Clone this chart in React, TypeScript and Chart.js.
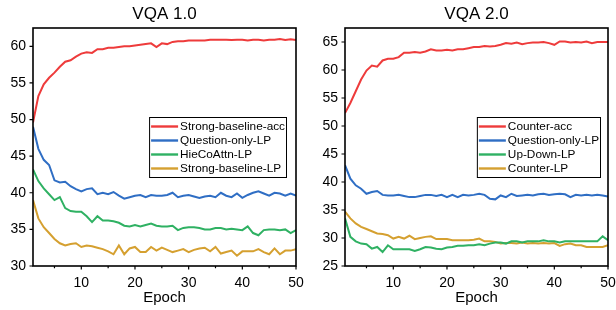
import React, { useEffect, useRef } from "react";
import { Chart, registerables } from "chart.js";

Chart.register(...registerables);

const FONT = "'Liberation Sans', Arial, Helvetica, sans-serif";

const epochs = Array.from({ length: 50 }, (_, i) => i + 1);
const xTicks = [5, 10, 15, 20, 25, 30, 35, 40, 45, 50];

// VQA 1.0
const title1 = "VQA 1.0";
const labels1 = ["Strong-baseline-acc", "Question-only-LP", "HieCoAttn-LP", "Strong-baseline-LP"];
const strongBaselineAcc = [
  49.6, 53.2, 54.8, 55.7, 56.4, 57.2, 57.9, 58.1, 58.6, 59.0,
  59.2, 59.1, 59.6, 59.6, 59.8, 59.8, 59.9, 60.0, 60.0, 60.1,
  60.2, 60.3, 60.4, 59.9, 60.4, 60.3, 60.6, 60.7, 60.7, 60.8,
  60.8, 60.8, 60.8, 60.9, 60.9, 60.9, 60.9, 60.85, 60.9, 60.9,
  60.8, 60.9, 60.9, 60.8, 60.9, 60.9, 61.0, 60.85, 60.95, 60.85,
];
const questionOnlyLP1 = [
  49.0, 46.0, 44.5, 43.8, 41.7, 41.4, 41.5, 40.9, 40.5, 40.2,
  40.5, 40.6, 39.8, 40.0, 39.8, 40.1, 39.6, 39.2, 39.4, 39.6,
  39.7, 39.4, 39.7, 39.6, 39.6, 39.7, 40.0, 39.4, 39.6, 39.7,
  39.5, 39.3, 39.5, 39.6, 39.4, 40.0, 39.6, 39.4, 39.9, 39.3,
  39.7, 40.0, 40.2, 39.9, 39.6, 40.0, 39.9, 39.6, 39.9, 39.6,
];
const hieCoAttnLP = [
  43.2, 41.6, 40.6, 39.8, 39.0, 39.4, 37.9, 37.5, 37.4, 37.4,
  36.8, 36.0, 36.8, 36.2, 36.2, 36.1, 35.9, 35.5, 35.4, 35.6,
  35.4, 35.6, 35.8, 35.5, 35.4, 35.4, 35.5, 34.9, 35.2, 35.3,
  35.3, 35.2, 35.0, 35.0, 35.2, 35.2, 35.0, 35.1, 35.0, 34.9,
  35.4, 34.5, 34.2, 34.9, 35.0, 35.0, 34.9, 35.0, 34.5, 34.9,
];
const strongBaselineLP = [
  39.0, 36.5, 35.3, 34.5, 33.7, 33.1, 32.8, 33.0, 33.1, 32.6,
  32.8, 32.7, 32.5, 32.3, 32.0, 31.6, 32.8, 31.6, 32.4, 32.6,
  31.9, 31.9, 32.6, 32.1, 32.5, 32.2, 31.9, 32.1, 32.3, 31.9,
  32.2, 32.4, 32.5, 32.0, 32.6, 31.7, 31.9, 32.1, 31.4, 32.0,
  32.0, 32.0, 32.3, 31.9, 31.6, 32.4, 31.6, 32.1, 32.1, 32.3,
];
const yTicks1 = [30, 35, 40, 45, 50, 55, 60];

// VQA 2.0
const title2 = "VQA 2.0";
const labels2 = ["Counter-acc", "Question-only-LP", "Up-Down-LP", "Counter-LP"];
const counterAcc = [
  52.3, 54.1, 56.2, 58.3, 59.9, 60.8, 60.6, 61.7, 62.0, 62.0,
  62.3, 63.1, 63.1, 63.2, 63.1, 63.3, 63.7, 63.5, 63.5, 63.6,
  63.5, 63.7, 63.7, 63.9, 64.1, 64.1, 64.3, 64.2, 64.3, 64.5,
  64.8, 64.7, 64.9, 64.6, 64.8, 64.9, 64.9, 65.0, 64.8, 64.5,
  65.1, 65.1, 64.9, 65.0, 64.9, 65.1, 64.8, 65.0, 65.0, 65.0,
];
const questionOnlyLP2 = [
  43.0, 40.6, 39.4, 38.8, 37.9, 38.2, 38.4, 37.7, 37.6, 37.6,
  37.7, 37.5, 37.3, 37.3, 37.5, 37.7, 37.7, 37.5, 37.7, 37.3,
  37.7, 37.3, 37.7, 37.6, 37.7, 37.9, 37.7, 37.0, 36.9, 37.6,
  37.3, 37.9, 37.5, 37.6, 37.7, 37.6, 37.8, 37.9, 37.7, 37.8,
  37.9, 37.8, 37.3, 37.7, 37.6, 37.7, 37.6, 37.7, 37.6, 37.4,
];
const upDownLP = [
  33.5, 30.2, 29.4, 29.0, 28.9, 28.1, 28.4, 27.5, 28.7, 28.0,
  28.0, 28.0, 28.0, 27.7, 28.0, 28.4, 28.3, 28.1, 28.0, 28.3,
  28.4, 28.6, 28.6, 28.7, 28.7, 28.9, 28.7, 29.0, 29.2, 29.2,
  29.0, 29.4, 29.4, 29.2, 29.4, 29.4, 29.4, 29.6, 29.4, 29.4,
  29.2, 29.4, 29.4, 29.4, 29.4, 29.4, 29.4, 29.4, 30.3, 29.6,
];
const counterLP = [
  34.7, 33.5, 32.6, 32.0, 31.6, 31.2, 30.8, 30.7, 30.5, 29.9,
  30.2, 29.9, 30.4, 29.8, 30.0, 30.2, 30.3, 29.8, 29.8, 29.8,
  29.6, 29.6, 29.6, 29.6, 29.7, 29.9, 29.4, 29.4, 29.3, 29.0,
  29.1, 29.1, 29.0, 29.2, 29.0, 29.1, 29.0, 29.1, 29.0, 29.1,
  28.6, 28.9, 29.0, 28.7, 28.7, 28.4, 28.4, 28.4, 28.4, 28.7,
];
const yTicks2 = [25, 30, 35, 40, 45, 50, 55, 60, 65];

const COLORS = ["#ee3b3b", "#2f6ec4", "#2fb163", "#d5a030"];

const decorPlugin = {
  id: "decor",
  afterDatasetsDraw(chart: any, _args: any, opts: any) {
    const ctx = chart.ctx;
    const a = chart.chartArea;
    const xs = chart.scales.x;
    const ys = chart.scales.y;
    ctx.save();
    // frame
    ctx.strokeStyle = "#000";
    ctx.lineWidth = 1.6;
    ctx.strokeRect(a.left, a.top, a.right - a.left, a.bottom - a.top);
    // ticks
    ctx.lineWidth = 1.2;
    ctx.beginPath();
    for (const t of xs.ticks) {
      const px = xs.getPixelForValue(t.value);
      const len = t.value % 10 === 0 ? 3.5 : 2.2;
      ctx.moveTo(px, a.bottom);
      ctx.lineTo(px, a.bottom + len);
    }
    for (const t of ys.ticks) {
      const py = ys.getPixelForValue(t.value);
      ctx.moveTo(a.left, py);
      ctx.lineTo(a.left - 3.5, py);
    }
    ctx.stroke();
    // title
    ctx.fillStyle = "#000";
    ctx.font = `17px ${FONT}`;
    ctx.textAlign = "center";
    ctx.textBaseline = "middle";
    ctx.fillText(opts.title, (a.left + a.right) / 2, 14);
    // legend
    const L = opts.legend;
    ctx.font = `11.8px ${FONT}`;
    let maxW = 0;
    chart.data.datasets.forEach((d: any) => {
      maxW = Math.max(maxW, ctx.measureText(d.label).width);
    });
    const boxW = 31 + maxW + 2;
    const boxRight = a.right - L.inset;
    const boxLeft = boxRight - boxW;
    const boxTop = L.top;
    const boxH = 61;
    ctx.fillStyle = "#fff";
    ctx.fillRect(boxLeft, boxTop, boxW, boxH);
    ctx.strokeStyle = "#000";
    ctx.lineWidth = 1;
    ctx.strokeRect(boxLeft + 0.5, boxTop + 0.5, boxW - 1, boxH - 1);
    chart.data.datasets.forEach((d: any, i: number) => {
      const y = boxTop + 9.5 + i * 14;
      ctx.strokeStyle = d.borderColor;
      ctx.lineWidth = 2.4;
      ctx.beginPath();
      ctx.moveTo(boxLeft + 2, y);
      ctx.lineTo(boxLeft + 29, y);
      ctx.stroke();
      ctx.fillStyle = "#000";
      ctx.textAlign = "left";
      ctx.textBaseline = "middle";
      ctx.fillText(d.label, boxLeft + 31, y + 0.5);
    });
    ctx.restore();
  },
};

function makeConfig(spec: any) {
  return {
    type: "line",
    data: {
      datasets: spec.series.map((vals: number[], i: number) => ({
        label: spec.labels[i],
        data: vals.map((v, j) => ({ x: epochs[j], y: v })),
        borderColor: COLORS[i],
        backgroundColor: COLORS[i],
        borderWidth: 2,
        pointRadius: 0,
        tension: 0,
        fill: false,
      })),
    },
    options: {
      responsive: false,
      animation: false,
      layout: { padding: { top: 28, right: spec.padRight, left: 0, bottom: 0 } },
      plugins: {
        legend: { display: false },
        title: { display: false },
        tooltip: { enabled: false },
        decor: { title: spec.title, legend: spec.legend },
      },
      scales: {
        x: {
          type: "linear",
          min: 1,
          max: 50,
          afterBuildTicks: (s: any) => {
            s.ticks = xTicks.map((v) => ({ value: v }));
          },
          afterFit: (s: any) => {
            s.height = 44;
            s.paddingLeft = 0;
            s.paddingRight = 0;
          },
          grid: { display: false, drawTicks: false },
          border: { display: false },
          ticks: {
            autoSkip: false,
            maxRotation: 0,
            padding: 9,
            color: "#000",
            font: { family: FONT, size: 14 },
            callback: (v: number) => (v % 10 === 0 ? String(v) : ""),
          },
          title: {
            display: true,
            text: "Epoch",
            color: "#000",
            font: { family: FONT, size: 15 },
            padding: { top: 0, bottom: 3 },
          },
        },
        y: {
          type: "linear",
          min: spec.yMin,
          max: spec.yMax,
          afterBuildTicks: (s: any) => {
            s.ticks = spec.yTicks.map((v: number) => ({ value: v }));
          },
          afterFit: (s: any) => {
            s.width = spec.yWidth;
            s.paddingTop = 0;
            s.paddingBottom = 0;
          },
          grid: { display: false, drawTicks: false },
          border: { display: false },
          ticks: {
            autoSkip: false,
            padding: 7,
            color: "#000",
            font: { family: FONT, size: 14 },
            callback: (v: number) => String(v),
          },
        },
      },
    },
    plugins: [decorPlugin],
  };
}

function Panel({ spec, left }: { spec: any; left: number }) {
  const ref = useRef<HTMLCanvasElement | null>(null);
  useEffect(() => {
    if (!ref.current) return;
    const chart = new Chart(ref.current, makeConfig(spec) as any);
    return () => chart.destroy();
  }, []);
  return (
    <canvas
      ref={ref}
      width={308}
      height={310}
      style={{ position: "absolute", left, top: 0, width: 308, height: 310 }}
    />
  );
}

const spec1 = {
  title: title1,
  labels: labels1,
  series: [strongBaselineAcc, questionOnlyLP1, hieCoAttnLP, strongBaselineLP],
  yMin: 30,
  yMax: 62.5,
  yTicks: yTicks1,
  yWidth: 33,
  padRight: 12,
  legend: { inset: 9, top: 117 },
};

const spec2 = {
  title: title2,
  labels: labels2,
  series: [counterAcc, questionOnlyLP2, upDownLP, counterLP],
  yMin: 25,
  yMax: 67.5,
  yTicks: yTicks2,
  yWidth: 37,
  padRight: 8,
  legend: { inset: 7, top: 117 },
};

export default function App() {
  return (
    <div
      style={{
        position: "fixed",
        left: 0,
        top: 0,
        width: 616,
        height: 310,
        background: "#fff",
        overflow: "hidden",
      }}
    >
      <Panel spec={spec1} left={0} />
      <Panel spec={spec2} left={308} />
    </div>
  );
}
